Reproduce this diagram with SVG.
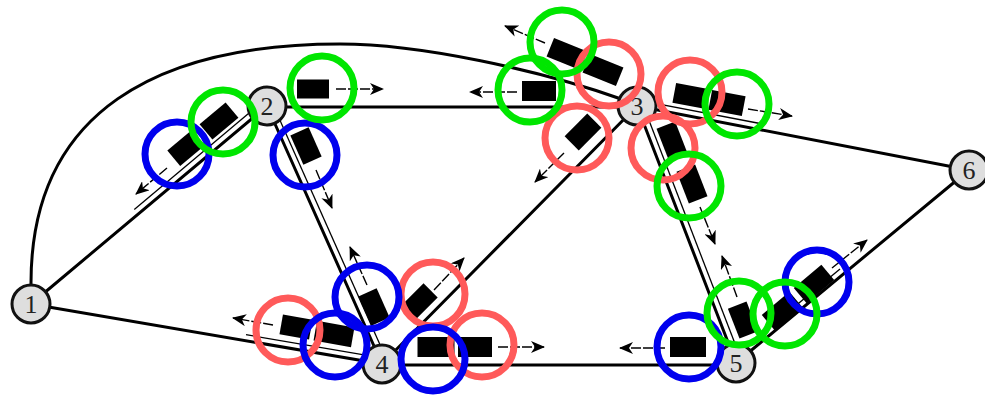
<svg xmlns="http://www.w3.org/2000/svg" width="985" height="395" viewBox="0 0 985 395">
  <defs>
    <!-- notched arrowhead used by every flow arrow -->
    <marker id="ah" markerUnits="userSpaceOnUse" markerWidth="14" markerHeight="12" refX="13" refY="6" orient="auto">
      <path d="M0,0 L14,6 L0,12 L4,6 Z" fill="#000" stroke="none"/>
    </marker>
  </defs>
  <style>
    .road{stroke:#000;stroke-width:3;fill:none;stroke-linecap:round}
    .lane{stroke:#000;stroke-width:1.3;fill:none}
    .car{fill:#000}
    .flow{stroke:#000;stroke-width:1.4;stroke-dasharray:10 2;fill:none}
    .node circle{fill:#dedede;stroke:#111;stroke-width:3}
    .node text{font-family:"Liberation Serif","DejaVu Serif",serif;font-size:26px;fill:#222;text-anchor:middle}
    .ring{fill:none;stroke-width:7}
    .g{stroke:#00e600}
    .r{stroke:#ff5a5a}
    .b{stroke:#0000ee}
  </style>

  <rect width="985" height="395" fill="#fff"/>

  <!-- road links between intersections -->
  <g id="connectors">
    <path class="road" d="M31,285 C30,110 160,44 340,44 C420,44 540,70 624,100"/>
    <path class="road" d="M31,304 L267,106"/>
    <path class="road" d="M267,107 L637,107"/>
    <path class="road" d="M267,106 L382,364"/>
    <path class="road" d="M637,106 L382,364"/>
    <path class="road" d="M637,106 L736,363"/>
    <path class="road" d="M637,106 L969,170"/>
    <path class="road" d="M31,304 L382,364"/>
    <path class="road" d="M382,365 L736,365"/>
    <path class="road" d="M736,363 L969,170"/>
    <!-- lane dividers beside the queues -->
    <path class="lane" d="M134.3,209.4 L249.1,112.9"/>
    <path class="lane" d="M272.5,103.6 L387.5,361.6"/>
    <path class="lane" d="M642.6,103.8 L741.6,360.8"/>
    <path class="lane" d="M246,334.7 L383,358.1"/>
    <path class="lane" d="M638.1,100.1 L760,123.5"/>
    <path class="lane" d="M732.2,358.4 L840,269.1"/>
  </g>

  <!-- vehicles -->
  <g id="vehicles">
    <rect class="car" x="-17" y="-10" width="34" height="20" transform="translate(219,121) rotate(-40)"/>
    <rect class="car" x="-16" y="-10" width="32" height="20" transform="translate(186,148) rotate(-40)"/>
    <rect class="car" x="-16" y="-9.5" width="32" height="19" transform="translate(313,89)"/>
    <rect class="car" x="-17" y="-10" width="34" height="20" transform="translate(539,91)"/>
    <rect class="car" x="-18" y="-10" width="36" height="20" transform="translate(567,54) rotate(22)"/>
    <rect class="car" x="-18" y="-10" width="36" height="20" transform="translate(603,70) rotate(22)"/>
    <rect class="car" x="-16" y="-10" width="32" height="20" transform="translate(583,132) rotate(-45)"/>
    <rect class="car" x="-17" y="-10" width="34" height="20" transform="translate(691,96) rotate(10.7)"/>
    <rect class="car" x="-17" y="-10" width="34" height="20" transform="translate(727,103) rotate(10.7)"/>
    <rect class="car" x="-17" y="-10" width="34" height="20" transform="translate(672,141) rotate(68.7)"/>
    <rect class="car" x="-17" y="-10" width="34" height="20" transform="translate(692,184) rotate(68.7)"/>
    <rect class="car" x="-16" y="-10" width="32" height="20" transform="translate(743,320) rotate(68.7)"/>
    <rect class="car" x="-18" y="-10" width="36" height="20" transform="translate(782,311) rotate(-40)"/>
    <rect class="car" x="-18" y="-10" width="36" height="20" transform="translate(814,284) rotate(-40)"/>
    <rect class="car" x="-18" y="-10" width="36" height="20" transform="translate(688,347)"/>
    <rect class="car" x="-18.5" y="-10" width="37" height="20" transform="translate(436,347)"/>
    <rect class="car" x="-17" y="-10" width="34" height="20" transform="translate(475,347)"/>
    <rect class="car" x="-15" y="-10" width="30" height="20" transform="translate(420,301) rotate(-45)"/>
    <rect class="car" x="-16" y="-10" width="32" height="20" transform="translate(306,146) rotate(66)"/>
    <rect class="car" x="-16" y="-10" width="32" height="20" transform="translate(374,307) rotate(66)"/>
    <rect class="car" x="-15" y="-10" width="30" height="20" transform="translate(296,327) rotate(10)"/>
    <rect class="car" x="-19" y="-10" width="38" height="20" transform="translate(334,334) rotate(10)"/>
  </g>

  <!-- direction of travel -->
  <g id="flows">
    <line class="flow" x1="167" y1="168" x2="136" y2="194" marker-end="url(#ah)"/>
    <line class="flow" x1="336" y1="89" x2="383" y2="89" marker-end="url(#ah)"/>
    <line class="flow" x1="517" y1="92" x2="470" y2="92" marker-end="url(#ah)"/>
    <line class="flow" x1="545" y1="43" x2="505" y2="26" marker-end="url(#ah)"/>
    <line class="flow" x1="564" y1="153" x2="535" y2="182" marker-end="url(#ah)"/>
    <line class="flow" x1="748" y1="109" x2="792" y2="116" marker-end="url(#ah)"/>
    <line class="flow" x1="700" y1="207" x2="715" y2="244" marker-end="url(#ah)"/>
    <line class="flow" x1="737" y1="297" x2="722" y2="256" marker-end="url(#ah)"/>
    <line class="flow" x1="832" y1="268" x2="867" y2="240" marker-end="url(#ah)"/>
    <line class="flow" x1="665" y1="348" x2="620" y2="348" marker-end="url(#ah)"/>
    <line class="flow" x1="498" y1="347" x2="544" y2="347" marker-end="url(#ah)"/>
    <line class="flow" x1="434" y1="290" x2="464" y2="258" marker-end="url(#ah)"/>
    <line class="flow" x1="316" y1="170" x2="332" y2="208" marker-end="url(#ah)"/>
    <line class="flow" x1="367" y1="285" x2="350" y2="247" marker-end="url(#ah)"/>
    <line class="flow" x1="273" y1="325" x2="233" y2="318" marker-end="url(#ah)"/>
  </g>

  <!-- intersections -->
  <g id="n1" class="node"><circle cx="31" cy="304" r="19"/><text x="31" y="313">1</text></g>
  <g id="n2" class="node"><circle cx="267" cy="106" r="19"/><text x="267" y="115">2</text></g>
  <g id="n3" class="node"><circle cx="637" cy="106" r="19"/><text x="637" y="115">3</text></g>
  <g id="n4" class="node"><circle cx="382" cy="364" r="19"/><text x="382" y="373">4</text></g>
  <g id="n5" class="node"><circle cx="736" cy="363" r="19"/><text x="736" y="372">5</text></g>
  <g id="n6" class="node"><circle cx="969" cy="170" r="19"/><text x="969" y="179">6</text></g>

  <!-- highlighted vehicles -->
  <g id="marks">
    <circle class="ring r" cx="609" cy="74" r="32"/>
    <circle class="ring r" cx="577" cy="138" r="32"/>
    <circle class="ring r" cx="690" cy="92" r="32"/>
    <circle class="ring r" cx="663" cy="148" r="32"/>
    <circle class="ring r" cx="288" cy="330" r="32"/>
    <circle class="ring r" cx="433" cy="294" r="32"/>
    <circle class="ring r" cx="482" cy="345" r="32"/>
    <circle class="ring b" cx="177" cy="154" r="32"/>
    <circle class="ring b" cx="305" cy="155" r="32"/>
    <circle class="ring b" cx="367" cy="297" r="32"/>
    <circle class="ring b" cx="335" cy="345" r="32"/>
    <circle class="ring b" cx="433" cy="359" r="32"/>
    <circle class="ring b" cx="817" cy="282" r="32"/>
    <circle class="ring b" cx="689" cy="347" r="32"/>
    <circle class="ring g" cx="223" cy="122" r="32"/>
    <circle class="ring g" cx="322" cy="88" r="32"/>
    <circle class="ring g" cx="562" cy="42" r="32"/>
    <circle class="ring g" cx="530" cy="90" r="32"/>
    <circle class="ring g" cx="737" cy="104" r="32"/>
    <circle class="ring g" cx="689" cy="186" r="32"/>
    <circle class="ring g" cx="739" cy="313" r="32"/>
    <circle class="ring g" cx="785" cy="314" r="32"/>
  </g>
</svg>
